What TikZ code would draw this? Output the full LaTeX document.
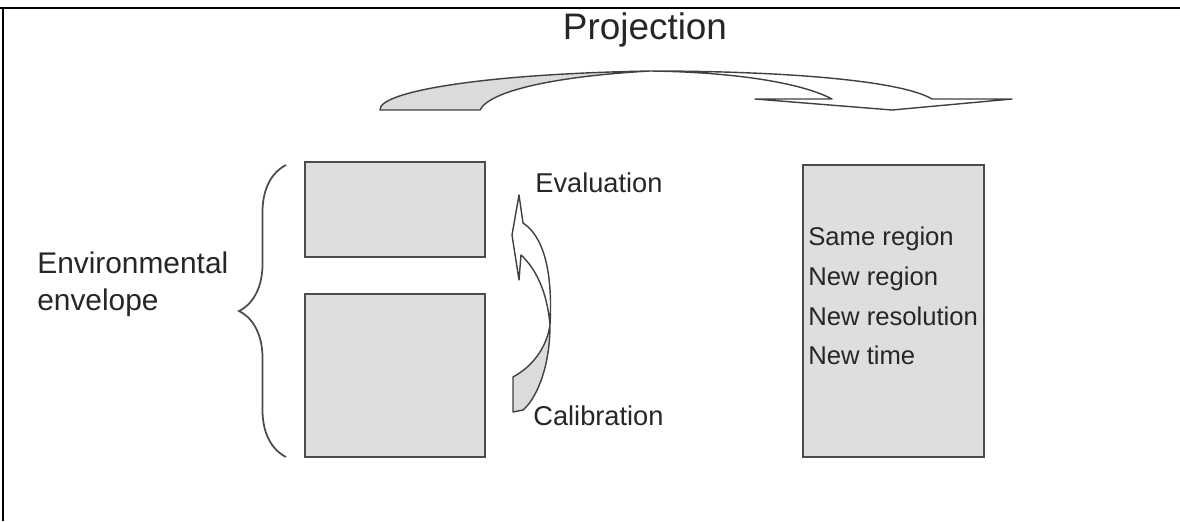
\documentclass[tikz,border=0pt]{standalone}
\usepackage{fontspec}
\setmainfont{Liberation Sans}
\usetikzlibrary{decorations.pathreplacing}
\tikzstyle{panel} = [draw=black!70,fill=black!13,line width=1pt,inner sep=0pt]
\tikzstyle{ribbon} = [draw=black!75,line width=0.8pt,line join=round]
\tikzstyle{caption} = [inner sep=0pt,text=black!85]

\begin{document}
\begin{tikzpicture}[x=0.02cm,y=-0.02cm]
	\useasboundingbox (0,0) rectangle (1180,521);
	% frame
	\draw [line width=1.3pt] (0,8) -- (1180,8);
	\draw [line width=1.3pt] (3,8) -- (3,521);
	
	% panels
	\node (upper) at (395,209.5) [panel,minimum width=3.6cm,minimum height=1.9cm] {};
	\node (lower) at (395,375.5) [panel,minimum width=3.6cm,minimum height=3.26cm] {};
	\node (target) at (893.5,311) [panel,minimum width=3.62cm,minimum height=5.84cm] {};
	
	% labels
	\node (title) at (645,30) [caption,font=\fontsize{21}{25}\selectfont] {Projection};
	\node (envlabel) at (37,284) [caption,anchor=west,align=left,font=\fontsize{17}{21}\selectfont] {Environmental\\envelope};
	\node (evallabel) at (535,183) [caption,anchor=west,font=\fontsize{15.5}{18}\selectfont] {Evaluation};
	\node (calilabel) at (533,416) [caption,anchor=west,font=\fontsize{15.5}{18}\selectfont] {Calibration};
	\node (cases) at (808,296) [caption,anchor=west,align=left,font=\fontsize{14.6}{22.7}\selectfont] {Same region\\New region\\New resolution\\New time};
	
	% brace
	\coordinate (bracebot) at (286,457);
	\coordinate (bracetop) at (286,165);
	\draw [decorate,decoration={brace,amplitude=0.94cm},draw=black!70,line width=1pt] (bracebot) -- (bracetop);
	
	% projection ribbon
	\coordinate (pcross) at (650,71);
	\draw [ribbon,fill=black!14] (380,110) .. controls (378,92) and (480,74) .. (pcross)
		.. controls (560,76) and (490,90) .. (480,110) -- cycle;
	\draw [ribbon,fill=white] (pcross) .. controls (780,71) and (900,80) .. (932,99)
		-- (1012,99) -- (892,110) -- (755,99) -- (832,99)
		.. controls (800,82) and (730,72) .. (pcross);
	
	% evaluation ribbon
	\coordinate (vcross) at (550,325);
	\draw [ribbon,fill=black!14] (vcross) .. controls (550,370) and (535,400) .. (523,410)
		-- (513,412) -- (513,377) .. controls (535,365) and (547,345) .. (vcross);
	\draw [ribbon,fill=white] (vcross) .. controls (553,270) and (543,236) .. (523,223)
		-- (519,195) -- (512,235) -- (519,280) -- (521,255)
		.. controls (535,268) and (547,290) .. (vcross);
\end{tikzpicture}
\end{document}
